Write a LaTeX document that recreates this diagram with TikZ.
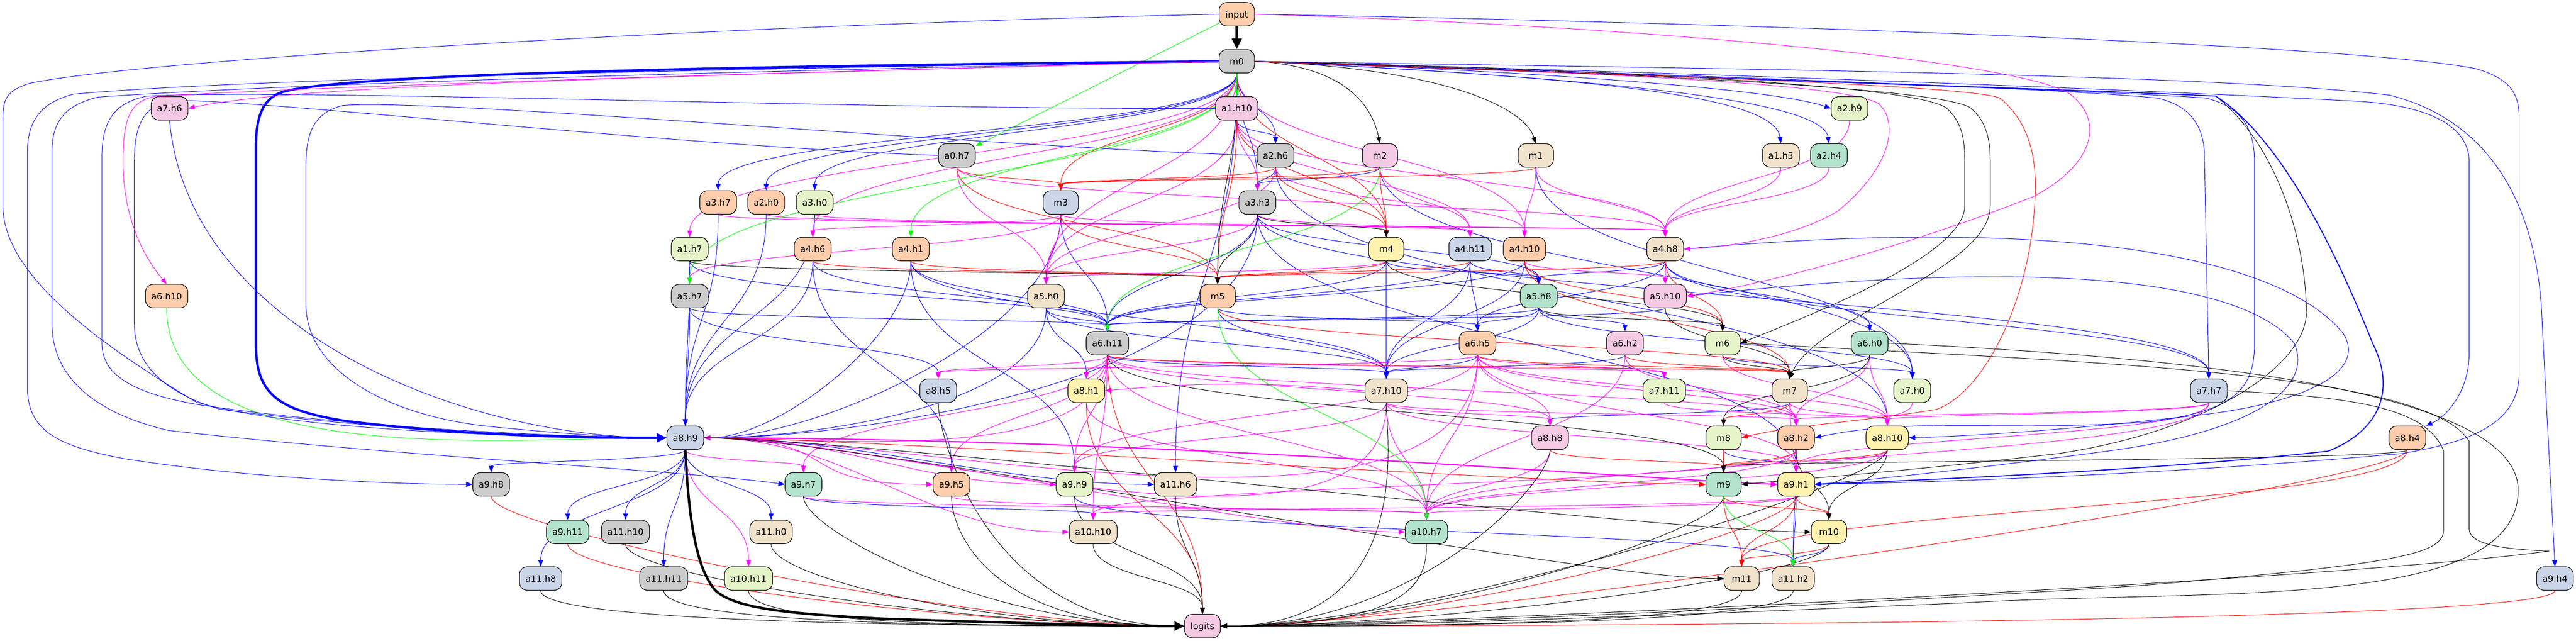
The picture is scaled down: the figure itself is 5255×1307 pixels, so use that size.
\documentclass[tikz,border=0pt]{standalone}
\usepackage{fontspec}
\setmainfont{DejaVu Sans}
\usetikzlibrary{arrows.meta,calc}
\definecolor{cpe}{HTML}{FDCDAC}
\definecolor{cgr}{HTML}{B3E2CD}
\definecolor{cbl}{HTML}{CBD5E8}
\definecolor{cpi}{HTML}{F4CAE4}
\definecolor{cyg}{HTML}{E6F5C9}
\definecolor{cye}{HTML}{FFF2AE}
\definecolor{cbe}{HTML}{F1E2CC}
\definecolor{cgy}{HTML}{CCCCCC}
\definecolor{eB}{HTML}{0000FF}
\definecolor{eM}{HTML}{FF00FF}
\definecolor{eR}{HTML}{FF0000}
\definecolor{eG}{HTML}{00FF00}
\pgfdeclarelayer{bg}
\pgfsetlayers{bg,main}
\tikzset{
  nbox/.style={draw=black, line width=0.6pt, rounded corners=8pt, minimum height=24pt, minimum width=36pt, inner xsep=6pt, inner ysep=0pt, text height=1.55ex, text depth=0.3ex, font=\fontsize{9}{11}\selectfont},
  conn/.style={line width=0.5pt, -{Triangle[length=6.5pt,width=5pt]}},
  eblue/.style={conn, color=eB},
  emag/.style={conn, color=eM},
  ered/.style={conn, color=eR},
  egrn/.style={conn, color=eG},
  eblk/.style={conn, color=black},
}
\newcommand{\mkn}[4]{\node[nbox,fill=#4] (#1) at (#2) {#3};}
\newcommand{\vE}[3]{\path ($(#2.south)!0.5!(#3.north)$) coordinate (mm); \draw[#1] (#2.south) .. controls (#2.south |- mm) and (#3.north |- mm) .. (#3.north);}
\newcommand{\lgL}[2]{\draw[#1] (#2.south) .. controls +(0,70) and +(-400,0) .. (logits.west);}
\newcommand{\lgR}[2]{\draw[#1] (#2.south) .. controls +(0,70) and +(400,0) .. (logits.east);}
\newcommand{\hR}[2]{\draw[#1] (a8h9.east) .. controls +(300,0) and +(-300,0) .. (#2.west);}
\newcommand{\iR}[2]{\draw[#1] (#2.south) to[out=-90,in=0,looseness=0.7] (a8h9.east);}
\begin{document}
\begin{tikzpicture}[x=0.5pt,y=-0.5pt]
\useasboundingbox (0,0) rectangle (5255,1307);
% row 0-3
\mkn{input}{2523,29}{input}{cpe}
\mkn{m0}{2523,125}{m0}{cgy}
\mkn{a7h6}{346,221}{a7.h6}{cpi}
\mkn{a1h10}{2523,221}{a1.h10}{cpi}
\mkn{a2h9}{3773,221}{a2.h9}{cyg}
\mkn{a0h7}{1952,317}{a0.h7}{cgy}
\mkn{a2h6}{2602,317}{a2.h6}{cgy}
\mkn{m2}{2815,317}{m2}{cpi}
\mkn{m1}{3133,317}{m1}{cbe}
\mkn{a1h3}{3633,317}{a1.h3}{cbe}
\mkn{a2h4}{3731,317}{a2.h4}{cgr}
% row 4
\mkn{a3h7}{1465,413}{a3.h7}{cpe}
\mkn{a2h0}{1563,413}{a2.h0}{cpe}
\mkn{a3h0}{1662,413}{a3.h0}{cyg}
\mkn{m3}{2164,413}{m3}{cbl}
\mkn{a3h3}{2565,413}{a3.h3}{cgy}
% row 5
\mkn{a1h7}{1407,508}{a1.h7}{cyg}
\mkn{a4h6}{1658,508}{a4.h6}{cpe}
\mkn{a4h1}{1858,508}{a4.h1}{cpe}
\mkn{m4}{2828,508}{m4}{cye}
\mkn{a4h11}{2999,508}{a4.h11}{cbl}
\mkn{a4h10}{3110,508}{a4.h10}{cpe}
\mkn{a4h8}{3397,508}{a4.h8}{cbe}
% row 6
\mkn{a6h10}{340,604}{a6.h10}{cpe}
\mkn{a5h7}{1407,604}{a5.h7}{cgy}
\mkn{a5h0}{2134,604}{a5.h0}{cbe}
\mkn{m5}{2484,604}{m5}{cpe}
\mkn{a5h8}{3139,604}{a5.h8}{cgr}
\mkn{a5h10}{3397,604}{a5.h10}{cpi}
% row 7
\mkn{a6h11}{2259,700}{a6.h11}{cgy}
\mkn{a6h5}{3014,700}{a6.h5}{cpe}
\mkn{a6h2}{3315,700}{a6.h2}{cpi}
\mkn{m6}{3514,700}{m6}{cyg}
\mkn{a6h0}{3814,700}{a6.h0}{cgr}
% row 8
\mkn{a8h5}{1914,797}{a8.h5}{cbl}
\mkn{a8h1}{2216,797}{a8.h1}{cye}
\mkn{a7h10}{2828,797}{a7.h10}{cbe}
\mkn{a7h11}{3395,797}{a7.h11}{cyg}
\mkn{m7}{3651,797}{m7}{cbe}
\mkn{a7h0}{3901,797}{a7.h0}{cyg}
\mkn{a7h7}{4506,797}{a7.h7}{cbl}
% row 9
\mkn{a8h9}{1398,893}{a8.h9}{cbl}
\mkn{a8h8}{3162,893}{a8.h8}{cpi}
\mkn{m8}{3516,893}{m8}{cyg}
\mkn{a8h2}{3664,893}{a8.h2}{cpe}
\mkn{a8h10}{3850,893}{a8.h10}{cye}
\mkn{a8h4}{4911,893}{a8.h4}{cpe}
% row 10
\mkn{a9h8}{1002,988}{a9.h8}{cgy}
\mkn{a9h7}{1639,988}{a9.h7}{cgr}
\mkn{a9h5}{1941,988}{a9.h5}{cpe}
\mkn{a9h9}{2192,988}{a9.h9}{cyg}
\mkn{a11h6}{2398,988}{a11.h6}{cbe}
\mkn{m9}{3516,988}{m9}{cgr}
\mkn{a9h1}{3664,988}{a9.h1}{cye}
% row 11
\mkn{a9h11}{1158,1085}{a9.h11}{cgr}
\mkn{a11h10}{1276,1085}{a11.h10}{cgy}
\mkn{a11h0}{1573,1085}{a11.h0}{cbe}
\mkn{a10h10}{2230,1085}{a10.h10}{cbe}
\mkn{a10h7}{2910,1085}{a10.h7}{cgr}
\mkn{m10}{3731,1085}{m10}{cye}
% row 12
\mkn{a11h8}{1103,1180}{a11.h8}{cbl}
\mkn{a11h11}{1354,1180}{a11.h11}{cgy}
\mkn{a10h11}{1527,1180}{a10.h11}{cyg}
\mkn{m11}{3553,1180}{m11}{cbe}
\mkn{a11h2}{3658,1180}{a11.h2}{cbe}
\mkn{a9h4}{5212,1180}{a9.h4}{cbl}
% row 13
\mkn{logits}{2453,1277}{logits}{cpi}

\begin{pgfonlayer}{bg}
\fill[white] (0,0) rectangle (5255,1307);
% ---------- default blue
\foreach \s/\t in {m0/a2h6, a1h10/a2h6, m0/a3h7, m0/a2h0, m0/a3h0, m0/a3h3, a2h6/a3h3, m2/a3h3,
 a4h11/a5h8, a4h10/a5h8, a4h8/a5h8, m4/a5h8, a3h3/a5h8,
 m3/a6h11, a4h1/a6h11, a3h3/a6h11, a1h7/a6h11, a5h7/a6h11, a4h6/a6h11, a5h0/a6h11, a5h8/a6h11, a4h11/a6h11, m4/a6h11, a4h10/a6h11, a5h10/a6h11,
 a4h11/a6h5, a5h8/a6h5, m5/a6h5, a4h8/a6h5, a5h8/a6h2, a4h8/a6h0,
 a6h5/a7h10, a6h11/a7h10, m5/a7h10, a5h8/a7h10, m4/a7h10, a4h11/a7h10, a4h10/a7h10, a5h0/a7h10, a4h1/a7h10, a6h2/a7h10,
 m2/a7h0, m1/a7h0, m6/a7h0, a5h8/a7h0, a4h8/a7h7, a3h3/a7h7,
 a3h7/a8h9, a2h0/a8h9, a3h0/a8h9, a1h7/a8h9, a4h6/a8h9, a5h7/a8h9,
 a5h7/a8h5, a5h0/a8h1, m7/a8h8, a2h6/a8h10,
 a8h9/a9h8, a4h6/a9h5, a4h1/a9h9, m0/a11h6, m8/a9h1, a3h3/a9h1,
 a8h9/a9h11, a8h9/a11h10, a8h9/a11h0, a8h9/a11h8, a8h9/a11h11,
 a9h7/a10h10, a9h1/a11h2, m10/a11h2, a8h2/a11h2, a9h9/a11h2}{\vE{eblue}{\s}{\t}}
\foreach \s in {a4h1, m3, a5h0, a3h3}{\iR{eblue}{\s}}
\hR{eblue}{a11h6}
% ---------- default magenta
\foreach \s/\t in {a1h10/a3h3, m0/a1h7, m0/a4h6, m3/a4h6, m2/a4h11, a1h10/a4h11, a3h3/a4h11, m3/a4h11, m1/a4h10, m0/a4h10, a2h6/a4h10,
 a3h7/a4h8, a2h0/a4h8, a3h0/a4h8, a0h7/a4h8, m1/a4h8, a1h10/a4h8, a1h3/a4h8, a2h4/a4h8, a2h9/a4h8,
 m3/a5h7, m0/a5h0, a1h10/a5h0, a0h7/a5h0, m3/a5h0, a2h6/a5h0, a3h3/a5h0, m4/a5h0,
 a4h8/a5h10, a4h10/a5h10,
 a6h11/a8h5, a6h5/a8h5, a6h11/a8h1, a6h5/a7h11, a6h11/a7h11,
 a6h5/a8h8, a7h10/a8h8, a6h11/a8h8,
 m7/a8h2, a6h0/a8h2, a7h10/a8h2, a6h5/a8h2, a7h7/a8h2, a6h11/a8h2, a6h2/a8h2,
 a7h0/a8h10, m6/a8h10, a6h0/a8h10, a7h7/a8h10, m7/a8h10, a6h5/a8h10, a7h11/a8h10,
 a8h9/a9h7, a6h11/a9h7, a6h11/a9h5, a6h11/a9h9, a7h10/a9h9, a6h5/a9h9,
 a8h2/a9h1, a8h10/a9h1, a7h7/a9h1, m7/a9h1, a6h5/a9h1, a7h10/a9h1,
 a6h11/a10h10, a9h1/a10h10, a8h2/a10h10,
 a7h10/a10h7, a6h5/a10h7, a6h11/a10h7, a8h1/a10h7, a8h8/a10h7, a9h1/a10h7, a8h2/a10h7, a8h10/a10h7, a7h7/a10h7, a9h7/a10h7, a9h5/a10h7, a6h2/a10h7,
 a8h9/a10h11}{\vE{emag}{\s}{\t}}
\foreach \s in {a6h11, a7h10, a6h5}{\iR{emag}{\s}}
\foreach \t in {a9h5, a9h9, a10h10, a10h7}{\hR{emag}{\t}}
\draw[emag, line width=1.2pt, -{Triangle[length=7pt,width=6pt]}] (a8h9.east) .. controls (2400,895) and (3300,975) .. (a9h1.west);
\draw[emag] (a7h10.west) to[out=175,in=5] (a8h1.east);
% ---------- default red
\foreach \s/\t in {m0/m3, a0h7/m3, a2h6/m3, m2/m3, m1/m3, m0/m4, a1h10/m4, m2/m4, a2h6/m4,
 a1h10/m5, m3/m5, a0h7/m5, a4h1/m5, a4h6/m5, m4/m5, a4h11/m5, a4h8/m5,
 a4h8/m6, a4h10/m6, a4h10/m7, a6h5/m7, a6h11/m7, m5/m7, a6h2/m7,
 m7/m8, m8/m9, a8h2/m9, a8h8/m9, a8h10/m9,
 a9h1/m10, m9/m10, m9/m11, a9h1/m11, m10/m11, a8h4/m11,
 a8h1/logits, a6h11/logits}{\vE{ered}{\s}{\t}}
\hR{ered}{m9}
\foreach \s in {a9h8, a9h11}{\lgL{ered}{\s}}
\foreach \s in {a9h1, a8h4, a9h4}{\lgR{ered}{\s}}
% ---------- default black
\foreach \s/\t in {a3h3/m4, m0/m5, a1h7/m5, a3h3/m5, m4/m6, a5h8/m6, m6/m7, a6h0/m7, a5h10/m7, a6h0/m8, a6h11/m9, a8h4/m9, a8h2/m10, a8h10/m10,
 a9h9/logits, a10h10/logits, a11h6/logits}{\vE{eblk}{\s}{\t}}
\foreach \t in {m10, m11}{\hR{eblk}{\t}}
\foreach \s in {a11h8, a11h10, a11h11, a10h11, a11h0, a9h7, a8h5, a9h5}{\lgL{eblk}{\s}}
\foreach \s in {a10h7, a7h10, a8h8, m10, m11, a11h2, a8h10, m9}{\lgR{eblk}{\s}}
% ---------- green
\foreach \s/\t in {m0/a4h1, m0/a5h7, m2/a6h11, m5/a10h7, m9/a11h2}{\vE{egrn}{\s}{\t}}
\draw[egrn] (input) -- (a0h7);
\draw[egrn] (m0) -- (a1h10);
\draw[egrn] (a6h10.south) to[out=-90,in=180,looseness=0.8] (a8h9.west);
% ---------- special routes
\draw[eblk, line width=2.5pt, -{Triangle[length=11pt,width=10pt]}] (input) -- (m0);
\draw[eblk, line width=2.5pt, -{Triangle[length=10pt,width=9pt]}] (a8h9.south) .. controls (1405,1060) and (1420,1160) .. (1460,1205) .. controls (1500,1240) and (1600,1252) .. (1800,1262) .. controls (2100,1272) and (2300,1277) .. (logits.west);
\draw[eblue, line width=2.4pt, -{Triangle[length=10pt,width=9pt]}] (m0.west) .. controls (1500,135) and (700,150) .. (575,188) .. controls (535,202) and (522,240) .. (522,300) -- (522,700) .. controls (522,800) and (560,835) .. (700,858) .. controls (950,890) and (1200,893) .. (a8h9.west);
\draw[eblue] (input.west) .. controls (1500,50) and (300,120) .. (60,170) .. controls (15,185) and (6,200) .. (6,240) -- (6,420) .. controls (6,560) and (200,700) .. (400,820) .. controls (600,880) and (1100,893) .. (a8h9.west);
\draw[eblue] (m0.west) .. controls (1500,140) and (500,160) .. (150,192) .. controls (80,210) and (56,250) .. (56,310) -- (56,790) .. controls (56,880) and (120,910) .. (250,935) .. controls (500,975) and (800,988) .. (a9h8.west);
\draw[eblue] (m0.west) .. controls (1500,145) and (600,170) .. (200,198) .. controls (130,215) and (106,250) .. (106,310) -- (106,660) .. controls (106,760) and (180,840) .. (344,878) .. controls (800,930) and (1400,960) .. (a9h7.west);
\draw[eblue] (a1h10.west) .. controls (1800,225) and (600,180) .. (300,196) .. controls (230,210) and (208,250) .. (208,320) -- (208,700) .. controls (208,760) and (260,800) .. (402,825) .. controls (700,870) and (1100,890) .. (a8h9.west);
\draw[eblue] (a0h7.west) .. controls (1400,300) and (500,200) .. (350,205) .. controls (290,215) and (274,260) .. (274,330) -- (274,660) .. controls (274,740) and (330,800) .. (450,835) .. controls (800,880) and (1100,890) .. (a8h9.west);
\draw[eblue] (a2h6.west) .. controls (2000,300) and (900,200) .. (700,215) .. controls (640,230) and (624,270) .. (624,340) -- (624,620) .. controls (624,760) and (800,850) .. (1000,870) .. controls (1200,890) and (1300,893) .. (a8h9.west);
\draw[eblue] (a7h6.south) to[out=-85,in=180,looseness=0.9] (a8h9.west);
\draw[emag] (m0.west) .. controls (1500,150) and (700,175) .. (320,196) .. controls (265,205) and (251,240) .. (251,330) .. controls (251,440) and (290,520) .. (a6h10.north);
\draw[emag] (m0.west) .. controls (1200,160) and (600,175) .. (a7h6.east);
\draw[eblue] (m0.east) .. controls (3000,140) and (3600,175) .. (a2h9.west);
\draw[eblue] (m0.east) .. controls (3300,160) and (3620,200) .. (a1h3.north);
\draw[eblue] (m0.east) .. controls (3400,165) and (3720,215) .. (a2h4.north);
\draw[eblk] (m0.east) .. controls (2750,135) and (2800,220) .. (m2.north);
\draw[eblk] (m0.east) .. controls (2950,140) and (3110,220) .. (m1.north);
\draw[eblue] (input.east) .. controls (3500,45) and (4800,90) .. (5050,140) .. controls (5120,160) and (5139,190) .. (5139,240) -- (5139,760) .. controls (5139,860) and (5050,900) .. (4900,925) .. controls (4400,970) and (3900,985) .. (a9h1.east);
\draw[eblue] (m0.east) .. controls (3500,140) and (4500,150) .. (4874,194) .. controls (5100,250) and (5180,450) .. (5186,660) -- (a9h4.north);
\draw[eblue] (m0.east) .. controls (3500,150) and (4300,180) .. (4800,206) .. controls (4980,215) and (5037,270) .. (5037,330) -- (5037,720) .. controls (5037,800) and (4990,850) .. (a8h4.north east);
\draw[eblue] (m0.east) .. controls (3500,155) and (4200,180) .. (4400,200) .. controls (4470,215) and (4497,260) .. (4497,320) -- (a7h7.north);
\draw[eblue] (m0.east) .. controls (3500,160) and (4300,185) .. (4500,200) .. controls (4580,220) and (4599,270) .. (4599,330) -- (4599,700) .. controls (4600,800) and (4550,840) .. (4380,861) .. controls (4100,880) and (3900,850) .. (a8h2.east);
\draw[eblk] (m0.east) .. controls (3500,160) and (4300,185) .. (4520,196) .. controls (4650,300) and (4705,500) .. (4705,640) .. controls (4700,750) and (4500,880) .. (4200,925) .. controls (3900,960) and (3700,975) .. (m9.east);
\draw[eblue, line width=1pt] (m0.east) .. controls (3500,160) and (4300,185) .. (4520,196) .. controls (4650,280) and (4760,500) .. (4840,700) .. controls (4890,800) and (4850,880) .. (4750,920) .. controls (4400,960) and (3900,980) .. (a9h1.east);
\draw[eblue] (a4h8.east) .. controls (4200,440) and (4650,520) .. (4780,680) .. controls (4830,760) and (4700,820) .. (4500,845) .. controls (4200,880) and (4000,890) .. (a8h10.east);
\draw[eblue] (a5h10.east) .. controls (4300,510) and (4600,600) .. (4680,700) .. controls (4720,790) and (4600,880) .. (4300,920) .. controls (4000,960) and (3800,980) .. (a9h1.east);
\draw[eblk] (a7h7.east) .. controls (4800,810) and (4950,830) .. (4985,920) -- (4985,1080) .. controls (4985,1130) and (4900,1150) .. (4360,1195) .. controls (3500,1250) and (2800,1275) .. (logits.east);
\draw[eblk] (m6.east) .. controls (4300,740) and (4950,760) .. (5037,900) -- (5037,1080) .. controls (5040,1110) and (5100,1120) .. (5200,1124) .. controls (4800,1180) and (3000,1270) .. (logits.east);
\draw[eblk] (a6h0.east) .. controls (4500,730) and (5137,800) .. (5137,1000) .. controls (5137,1250) and (4500,1200) .. (4000,1230) .. controls (3300,1260) and (2800,1277) .. (logits.east);
\draw[emag] (input.east) .. controls (3300,50) and (4100,120) .. (4220,190) .. controls (4290,240) and (4280,330) .. (4150,400) .. controls (3900,500) and (3600,580) .. (a5h10.east);
\draw[emag] (m0.east) .. controls (3300,150) and (3750,170) .. (3830,210) .. controls (3870,240) and (3870,330) .. (3750,430) .. controls (3650,490) and (3500,505) .. (a4h8.east);
\draw[eblk] (m0.east) .. controls (3200,140) and (3900,170) .. (3970,220) .. controls (4005,250) and (4008,290) .. (4008,330) -- (4008,420) .. controls (4008,520) and (3700,640) .. (m6.east);
\draw[eblk] (m0.east) .. controls (3200,145) and (3950,175) .. (4020,220) .. controls (4055,250) and (4060,290) .. (4060,330) -- (4060,420) .. controls (4060,550) and (3700,650) .. (m7.north);
\draw[ered] (m0.east) .. controls (3200,150) and (4000,170) .. (4080,200) .. controls (4140,250) and (4152,320) .. (4152,380) .. controls (4150,600) and (4050,800) .. (3950,835) .. controls (3800,860) and (3650,868) .. (m8.east);
\end{pgfonlayer}
\end{tikzpicture}
\end{document}
